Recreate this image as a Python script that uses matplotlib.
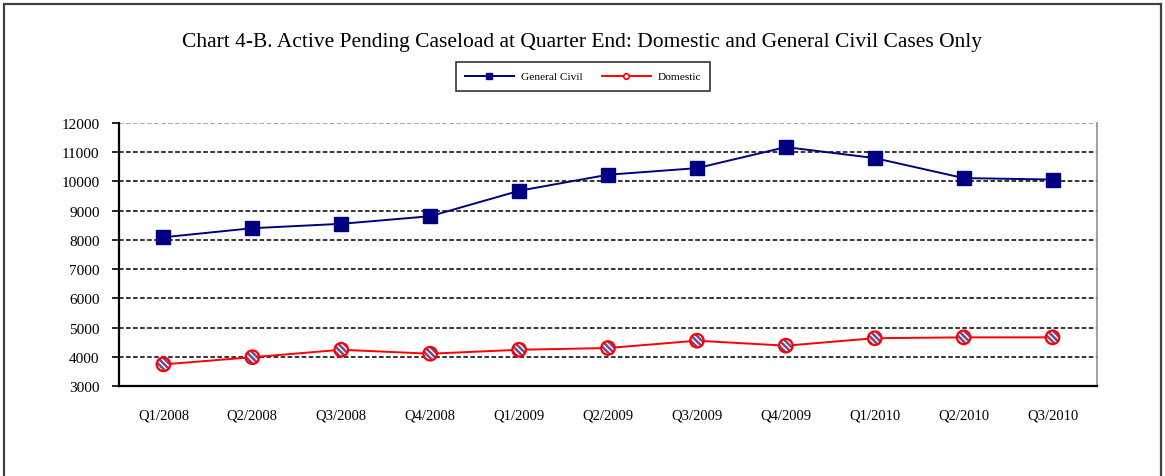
import matplotlib
matplotlib.use('Agg')
import matplotlib.pyplot as plt
from matplotlib.patches import Rectangle
from matplotlib.lines import Line2D

# quarters and pending caseload
quarters = ['Q1/2008', 'Q2/2008', 'Q3/2008', 'Q4/2008', 'Q1/2009', 'Q2/2009',
            'Q3/2009', 'Q4/2009', 'Q1/2010', 'Q2/2010', 'Q3/2010']
general_civil = [8090, 8400, 8550, 8810, 9680, 10230, 10455, 11175, 10800, 10115, 10065]
domestic = [3740, 3985, 4240, 4105, 4240, 4300, 4550, 4380, 4635, 4665, 4665]
yticks = [3000, 4000, 5000, 6000, 7000, 8000, 9000, 10000, 11000, 12000]

plt.rcParams['font.family'] = 'Liberation Serif'
plt.rcParams['hatch.linewidth'] = 1.8

fig = plt.figure(figsize=(11.65, 4.77), dpi=100)
fig.patch.set_facecolor('white')

# outer chart frame
fig.patches.append(Rectangle((4/1165, -0.05), 1157/1165, 1 - 5/477 + 0.05,
                             transform=fig.transFigure, fill=False,
                             edgecolor='#404040', linewidth=1.6))

ax = fig.add_axes([119/1165, 1 - 387/477, 978/1165, 263/477])
x = list(range(len(quarters)))

ax.plot(x, general_civil, color='#000080', linewidth=1.4, marker='s',
        markersize=10, markerfacecolor='#000080', markeredgecolor='#000080', zorder=3)

ax.plot(x, domestic, color='red', linewidth=1.4, zorder=3)
# hatched fill for circle markers, then red outline on top
ax.scatter(x, domestic, s=95, marker='o', facecolor='white', edgecolor='#74488a',
           hatch='\\' * 6, linewidth=0, zorder=4)
ax.scatter(x, domestic, s=95, marker='o', facecolor='none', edgecolor='red',
           linewidth=1.6, zorder=5)

ax.set_xlim(-0.5, len(quarters) - 0.5)
ax.set_ylim(3000, 12000)
ax.set_yticks(yticks)
ax.set_yticklabels([str(v) for v in yticks], fontsize=11)
ax.set_xticks(x)
ax.set_xticklabels(quarters, fontsize=10.5)
ax.tick_params(axis='x', length=0, pad=16)
ax.tick_params(axis='y', length=5, width=1.2, pad=9, direction='out')

ax.yaxis.grid(True, color='black', linestyle=(0, (3, 1.6)), linewidth=1.1)
ax.set_axisbelow(True)
ax.get_ygridlines()[-1].set_color('#909090')

ax.spines['left'].set_linewidth(1.6)
ax.spines['bottom'].set_linewidth(1.6)
ax.spines['top'].set_visible(False)
ax.spines['right'].set_color('#909090')
ax.spines['right'].set_linewidth(1.2)

fig.text(0.5, 1 - 43/477, 'Chart 4-B. Active Pending Caseload at Quarter End: Domestic and General Civil Cases Only',
         ha='center', va='center', fontsize=15.5)

handles = [
    Line2D([], [], color='#000080', linewidth=1.4, marker='s', markersize=5,
           markerfacecolor='#000080'),
    Line2D([], [], color='red', linewidth=1.4, marker='o', markersize=4,
           markerfacecolor='white', markeredgecolor='red', markeredgewidth=1.2),
]
leg = fig.legend(handles, ['General Civil', 'Domestic'], loc='center',
                 bbox_to_anchor=(583/1165, 1 - 77.5/477), ncol=2, fontsize=8.2,
                 frameon=True, fancybox=False, shadow=False, handlelength=4.3,
                 columnspacing=1.7, borderpad=0.8, handletextpad=0.6,
                 borderaxespad=0)
leg.get_frame().set_edgecolor('black')
leg.get_frame().set_linewidth(1.2)

fig.savefig('out.png', dpi=100)
